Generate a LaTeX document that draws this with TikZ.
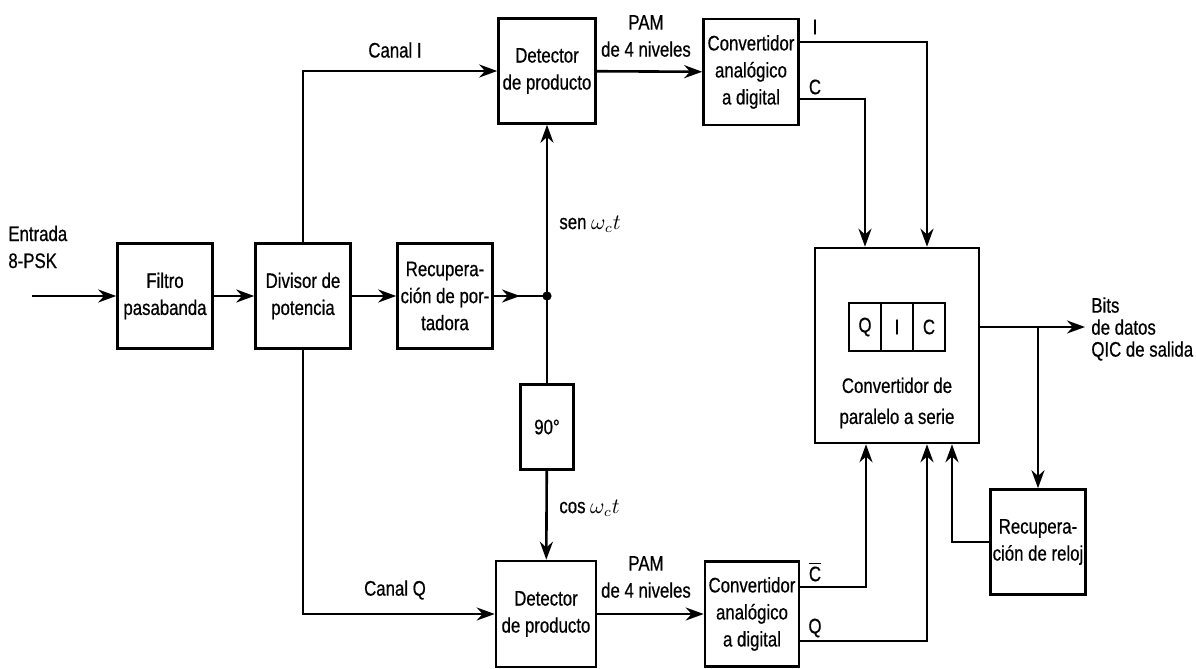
\documentclass[tikz,border=0pt]{standalone}
\usepackage{fontspec}
\setmainfont{Liberation Sans}[FakeStretch=0.8, FakeBold=0.6]
\usetikzlibrary{arrows.meta}

\tikzset{
  blk/.style={draw, line width=1.3pt, align=center, inner sep=1pt,
    minimum width=47.5pt, minimum height=52.5pt},
  cell/.style={draw, line width=1.1pt, minimum width=16pt, minimum height=24pt, inner sep=0pt},
  lbl/.style={inner sep=1pt, align=center},
  sig/.style={line width=1.3pt},
  flow/.style={sig, -{Stealth[length=9pt,width=6.5pt]}},
}

\begin{document}
\begin{tikzpicture}[x=0.5pt, y=-0.5pt, font=\fontsize{10.5}{13.5}\selectfont]
    \useasboundingbox (0,0) rectangle (1196,669);

    % Blocks
    \node[blk] (filtro) at (165,296) {Filtro\\pasabanda};
    \node[blk] (divisor) at (303,296) {Divisor de\\potencia};
    \node[blk] (portadora) at (445,296) {Recupera-\\ción de por-\\tadora};
    \node[blk, minimum width=48.5pt] (det1) at (547,71) {Detector\\de producto};
    \node[blk, minimum width=50pt, minimum height=53pt] (det2) at (546,614) {Detector\\de producto};
    \node[blk, minimum height=53pt] (adc1) at (751,72) {Convertidor\\analógico\\a digital};
    \node[blk, minimum width=47pt] (adc2) at (752,614) {Convertidor\\analógico\\a digital};
    \node[blk, minimum width=26.5pt, minimum height=42.5pt] (fase) at (547,427) {90°};
    \node[blk, minimum width=82pt, minimum height=97.5pt] (ps) at (897,345.5) {};
    \node[blk, minimum width=47pt] (reloj) at (1038,542) {Recupera-\\ción de reloj};

    % Register inside the converter
    \node[cell] (rq) at (865,327) {Q};
    \node[cell] (ri) at (897,327) {I};
    \node[cell] (rc) at (929,327) {C};
    \node[lbl] (pstxt) at (897,403) {Convertidor de\\[2pt]paralelo a serie};

    % Free ends
    \coordinate (entra) at (32,296);
    \coordinate (jn) at (547,296);
    \coordinate (jarr) at (520,296);
    \coordinate (rama) at (1038,327);
    \coordinate (bitsout) at (1085,327);

    % Connectors
    \draw[flow] (entra) -- (filtro);
    \draw[flow] (filtro) -- (divisor);
    \draw[flow] (divisor) -- (portadora);
    \draw[sig] (portadora) -- (jn);
    \draw[flow] (portadora) -- (jarr);
    \fill (jn) circle (2.3pt);
    \draw[flow] (jn) -- (det1);
    \draw[sig] (jn) -- (fase);
    \draw[flow] (fase) -- (det2);
    \draw[flow] (divisor) |- (det1);
    \draw[flow] (divisor) |- (det2);
    \draw[flow] (det1) -- (adc1);
    \draw[flow] (det2) -- (adc2);
    \draw[flow] ([yshift=15pt]adc1.east) -| ([xshift=15pt]ps.north);
    \draw[flow] ([yshift=-13.5pt]adc1.east) -| ([xshift=-16pt]ps.north);
    \draw[flow] ([yshift=13.5pt]adc2.east) -| ([xshift=-15.5pt]ps.south);
    \draw[flow] ([yshift=-13.5pt]adc2.east) -| ([xshift=15pt]ps.south);
    \draw[flow] (reloj) -| ([xshift=27.5pt]ps.south);
    \draw[flow] ([yshift=9.25pt]ps.east) -- (bitsout);
    \draw[flow] (rama) -- (reloj);

    % Labels
    \node[lbl, align=left, anchor=west] (entrada) at (6,247) {Entrada\\8-PSK};
    \node[lbl] (canali) at (395,50) {Canal I};
    \node[lbl] (canalq) at (395,590) {Canal Q};
    \node[lbl] (pam1) at (646,36) {PAM\\de 4 niveles};
    \node[lbl] (pam2) at (646,577) {PAM\\de 4 niveles};
    \node[lbl, anchor=west] (sen) at (557,224) {sen $\omega_c t$};
    \node[lbl, anchor=west] (cos) at (557,508) {cos $\omega_c t$};
    \node[lbl] (oi) at (815,27) {I};
    \node[lbl] (oc) at (815,87) {C};
    \node[lbl] (ocb) at (815,572) {$\overline{\hbox{C}}$};
    \node[lbl] (oq) at (815,628) {Q};
    \node[lbl, align=left, anchor=west, inner sep=0.5pt, font=\fontsize{10.5}{11}\selectfont]
      (bits) at (1090,329) {Bits\\de datos\\QIC de salida};
\end{tikzpicture}
\end{document}
